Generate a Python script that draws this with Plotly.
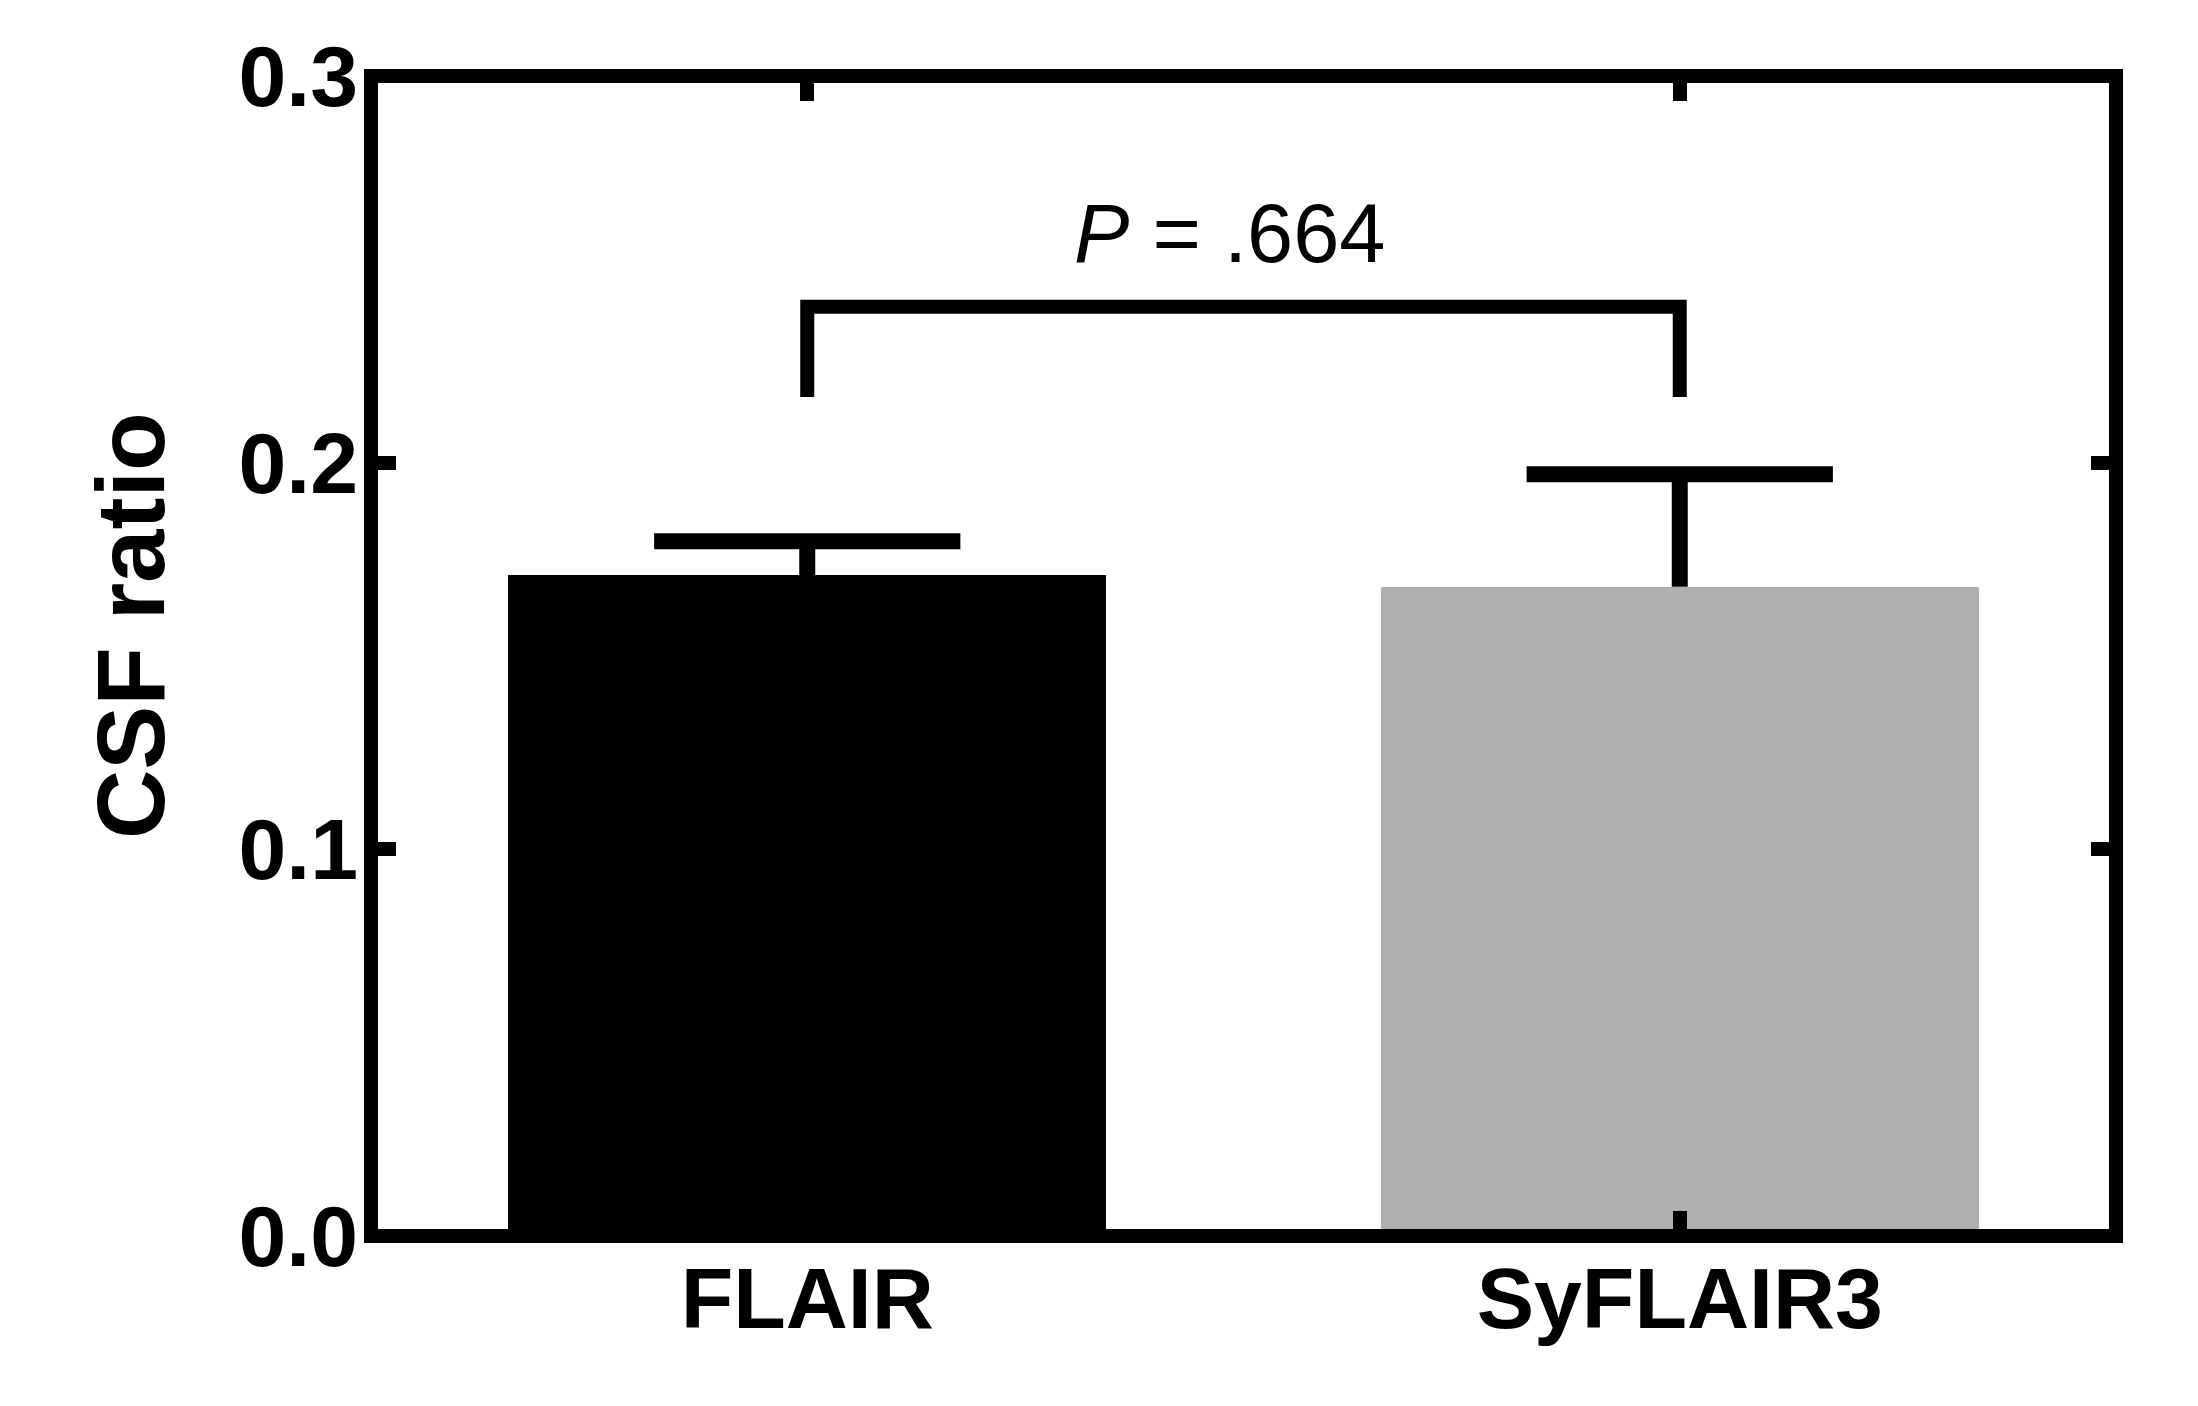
import plotly.graph_objects as go

# ---- data ----
categories = ["FLAIR", "SyFLAIR3"]
means = [0.1709, 0.1679]
sem = [0.0088, 0.0291]
bar_colors = ["#000000", "#afafb0"]
y_tickvals = [0.0, 0.1, 0.2, 0.3]
y_ticktext = ["0.0", "0.1", "0.2", "0.3"]
y_title = "CSF ratio"
p_label = "<i>P</i> = .664"
bracket_top = 0.2403
bracket_leg_bottom = 0.2170

# page has an 8px body margin, so the figure is 16px smaller than the window
W, H = 2182, 1390
ML, MR, MT, MB = 363, 74, 68, 162
LINE = 14
FONT = "Arial, 'Liberation Sans', Helvetica, sans-serif"

xpos = list(range(len(categories)))
bar_width = 0.685
cap_hw = 0.1755

fig = go.Figure()

fig.add_trace(go.Bar(
    x=xpos, y=means, width=bar_width,
    marker=dict(color=bar_colors, line=dict(width=0)),
    showlegend=False, hoverinfo="skip",
))

# error bars (upper only): stems + caps
ex, ey = [], []
for xi, m, s in zip(xpos, means, sem):
    ex += [xi, xi, None, xi - cap_hw, xi + cap_hw, None]
    ey += [m, m + s, None, m + s, m + s, None]
fig.add_trace(go.Scatter(
    x=ex, y=ey, mode="lines",
    line=dict(color="black", width=16),
    showlegend=False, hoverinfo="skip",
))

# significance bracket
fig.add_trace(go.Scatter(
    x=[xpos[0], xpos[0], xpos[1], xpos[1]],
    y=[bracket_leg_bottom, bracket_top, bracket_top, bracket_leg_bottom],
    mode="lines",
    line=dict(color="black", width=LINE),
    showlegend=False, hoverinfo="skip",
))

fig.add_annotation(
    x=(xpos[0] + xpos[1]) / 2, y=0.2592, xref="x", yref="y",
    text=p_label, showarrow=False, xshift=-14,
    xanchor="center", yanchor="middle",
    font=dict(family=FONT, size=83, color="black"),
)

fig.add_annotation(
    x=0, y=0.5, xref="paper", yref="paper",
    text=y_title, textangle=-90, showarrow=False,
    xshift=133 - 371 - 3, yshift=30,
    xanchor="center", yanchor="middle",
    font=dict(family=FONT, size=96, color="black", weight="bold"),
)

# frame centred on the plot-area edges
fig.add_shape(
    type="rect", xref="paper", yref="paper", x0=0, x1=1, y0=0, y1=1,
    line=dict(color="black", width=LINE), fillcolor="rgba(0,0,0,0)",
    layer="above",
)

fig.update_xaxes(
    range=[-0.5, 1.5],
    tickvals=xpos, ticktext=categories,
    ticks="inside", ticklen=25, tickwidth=LINE, tickcolor="black",
    showline=False, mirror="ticks",
    showgrid=False, zeroline=False, ticklabelstandoff=5,
    tickfont=dict(family=FONT, size=86, color="black", weight="bold"),
)
fig.update_yaxes(
    range=[0, 0.3],
    tickvals=y_tickvals, ticktext=y_ticktext,
    ticks="inside", ticklen=25, tickwidth=LINE, tickcolor="black",
    showline=False, mirror="ticks",
    showgrid=False, zeroline=False, ticklabelstandoff=12,
    tickfont=dict(family=FONT, size=86, color="black", weight="bold"),
)

fig.update_layout(
    width=W, height=H,
    margin=dict(l=ML, r=MR, t=MT, b=MB, pad=0),
    plot_bgcolor="white", paper_bgcolor="white",
    bargap=0,
)

fig.write_html("out.html")
